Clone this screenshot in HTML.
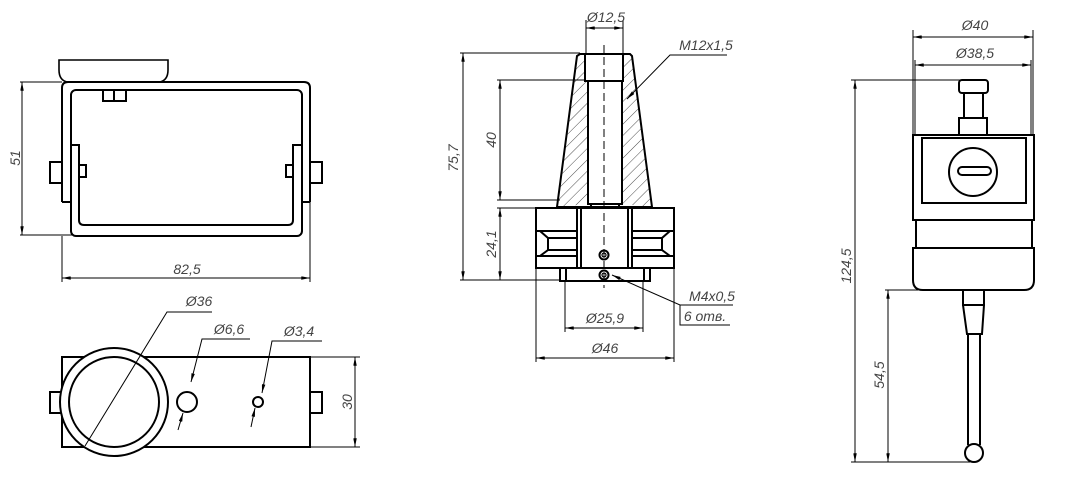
<!DOCTYPE html>
<html><head><meta charset="utf-8"><style>
html,body{margin:0;padding:0;background:#fff;}
svg{display:block;}
text{font-family:"Liberation Sans",sans-serif;font-style:italic;font-size:14px;fill:#444;}
</style></head><body>
<svg width="1079" height="485" viewBox="0 0 1079 485" xmlns="http://www.w3.org/2000/svg">
<defs>
<marker id="a" viewBox="0 0 10 4" refX="10" refY="2" markerWidth="9" markerHeight="3.5" orient="auto-start-reverse" markerUnits="userSpaceOnUse"><path d="M0,0L10,2L0,4z" fill="#000"/></marker>
<clipPath id="hc"><path d="M577,54 L585,54 L585,81 L588,81 L588,204 L557,207 Z M632,54 L623,54 L623,81 L622,81 L622,204 L652,207 Z"/></clipPath>
<pattern id="hp" width="8" height="8" patternUnits="userSpaceOnUse" patternTransform="rotate(45)"><line x1="0" y1="0" x2="0" y2="8" stroke="#000" stroke-width="0.7"/></pattern>
</defs>

<g fill="none" stroke="#000" stroke-width="2">
<path d="M59,60 H168 V70 Q168,80 160,82 H67 Q59,80 59,70 Z" stroke-width="1.6"/>
<path d="M62,202 V88 Q62,82 68,82 H304 Q310,82 310,88 V202"/>
<rect x="71" y="90" width="231" height="146" rx="5"/>
<path d="M71,145 H79 V220 Q79,225 84,225 H288 Q293,225 293,220 V145 H302"/>
<path d="M62,202 H71 M302,202 H310"/>
<path d="M62,162 H50 V183 H62 M310,162 H322 V183 H310"/>
<path d="M79,165 H86 V177 H79 M293,165 H286 V177 H293"/>
<path d="M103,90 V101 H126 V90 M114,90 V101"/>
</g>
<g stroke="#000" stroke-width="1" fill="none">
<line x1="20" y1="82" x2="62" y2="82"/><line x1="20" y1="235" x2="72" y2="235"/>
<line x1="22" y1="82" x2="22" y2="235" marker-start="url(#a)" marker-end="url(#a)"/>
<line x1="62" y1="236" x2="62" y2="282"/><line x1="310" y1="202" x2="310" y2="282"/>
<line x1="62" y1="278" x2="310" y2="278" marker-start="url(#a)" marker-end="url(#a)"/>
</g>
<text transform="translate(20,158) rotate(-90)" text-anchor="middle">51</text>
<text x="187" y="274" text-anchor="middle">82,5</text>

<g fill="none" stroke="#000" stroke-width="2">
<rect x="62" y="357" width="248" height="90"/>
<path d="M62,392 H50 V413 H62 M310,392 H322 V413 H310"/>
<circle cx="114" cy="402" r="54" fill="#fff"/>
<circle cx="114" cy="402" r="45"/>
<circle cx="187" cy="402" r="10"/>
<circle cx="258" cy="402" r="5"/>
</g>
<g stroke="#000" stroke-width="1" fill="none">
<path d="M212,312 H167 L85,446"/>
<path d="M250,339 H202 L191,382" marker-end="url(#a)"/><line x1="178" y1="430" x2="183" y2="413" marker-end="url(#a)"/>
<path d="M322,341 H272 L262,393" marker-end="url(#a)"/><line x1="251" y1="427" x2="255" y2="408" marker-end="url(#a)"/>
<line x1="310" y1="357" x2="360" y2="357"/><line x1="310" y1="447" x2="360" y2="447"/>
<line x1="355" y1="357" x2="355" y2="447" marker-start="url(#a)" marker-end="url(#a)"/>
</g>
<text x="199" y="306" text-anchor="middle">Ø36</text>
<text x="229" y="334" text-anchor="middle">Ø6,6</text>
<text x="299" y="336" text-anchor="middle">Ø3,4</text>
<text transform="translate(352,402) rotate(-90)" text-anchor="middle">30</text>

<rect x="540" y="50" width="120" height="160" fill="url(#hp)" clip-path="url(#hc)"/>
<g fill="none" stroke="#000" stroke-width="2">
<path d="M580,54 H630 L632,56 L652,207 H557 L577,56 Z"/>
<path d="M585,54 V81 H623 V54"/>
<path d="M588,81 V204 H622 V81 M591,204 V207 M619,204 V207"/>
<rect x="536" y="208" width="138" height="60"/>
<path d="M577,208 V268 M581,208 V268 M628,208 V268 M632,208 V268"/>
<path d="M536,231 H577 M536,256 H577 M548,238 H577 M548,250 H577 M540,231 L548,238 V250 L540,256"/>
<path d="M674,231 H632 M674,256 H632 M662,238 H632 M662,250 H632 M670,231 L662,238 V250 L670,256"/>
<path d="M560,268 V281 H650 V268 M566,268 V281 M644,268 V281"/>
<circle cx="604" cy="255" r="4.5"/><circle cx="604" cy="255" r="2" stroke-width="1.2"/>
<circle cx="604" cy="275" r="4.5"/><circle cx="604" cy="275" r="2" stroke-width="1.2"/>
</g>
<g stroke="#000" stroke-width="1" fill="none">
<line x1="604" y1="45" x2="604" y2="288" stroke-dasharray="8,4"/>
<line x1="586" y1="20" x2="586" y2="54"/><line x1="623" y1="20" x2="623" y2="54"/>
<line x1="586" y1="28" x2="623" y2="28" marker-start="url(#a)" marker-end="url(#a)"/>
<path d="M727,55 H670 L627,99" marker-end="url(#a)"/>
<line x1="460" y1="53" x2="580" y2="53"/><line x1="460" y1="280" x2="560" y2="280"/>
<line x1="463" y1="53" x2="463" y2="280" marker-start="url(#a)" marker-end="url(#a)"/>
<line x1="497" y1="80" x2="586" y2="80"/><line x1="497" y1="200" x2="560" y2="200"/>
<line x1="500" y1="80" x2="500" y2="200" marker-start="url(#a)" marker-end="url(#a)"/>
<line x1="497" y1="208" x2="536" y2="208"/>
<line x1="500" y1="208" x2="500" y2="280" marker-start="url(#a)" marker-end="url(#a)"/>
<line x1="565" y1="281" x2="565" y2="332"/><line x1="643" y1="281" x2="643" y2="332"/>
<line x1="565" y1="328" x2="643" y2="328" marker-start="url(#a)" marker-end="url(#a)"/>
<line x1="536" y1="268" x2="536" y2="362"/><line x1="674" y1="268" x2="674" y2="362"/>
<line x1="536" y1="358" x2="674" y2="358" marker-start="url(#a)" marker-end="url(#a)"/>
<path d="M733,305 H680 L612,275" marker-end="url(#a)"/>
<path d="M680,305 V325 H730"/>
</g>
<text x="606" y="22" text-anchor="middle">Ø12,5</text>
<text x="706" y="50" text-anchor="middle" font-size="13">M12x1,5</text>
<text transform="translate(458,158) rotate(-90)" text-anchor="middle">75,7</text>
<text transform="translate(496,140) rotate(-90)" text-anchor="middle">40</text>
<text transform="translate(496,244) rotate(-90)" text-anchor="middle">24,1</text>
<text x="605" y="323" text-anchor="middle">Ø25,9</text>
<text x="605" y="353" text-anchor="middle">Ø46</text>
<text x="712" y="301" text-anchor="middle" font-size="13">M4x0,5</text>
<text x="705" y="321" text-anchor="middle" font-size="13">6 отв.</text>

<g fill="none" stroke="#000" stroke-width="2">
<rect x="959" y="80" width="29" height="13" rx="3"/>
<path d="M964,93 V118 M983,93 V118"/>
<rect x="959" y="118" width="28" height="17"/>
<rect x="913" y="135" width="121" height="85"/>
<rect x="922" y="138" width="104" height="65"/>
<circle cx="973" cy="172" r="24"/>
<rect x="958" y="167" width="33" height="8" rx="4"/>
<path d="M916,220 V248 M1032,220 V248"/>
<path d="M913,248 H1034 V280 Q1034,290 1024,290 H923 Q913,290 913,280 Z"/>
<path d="M963,290 V305 H984 V290 M963,305 L967,334 H982 L984,305"/>
<path d="M968,334 V445 M980,334 V445"/>
<circle cx="974" cy="453" r="9"/>
</g>
<g stroke="#000" stroke-width="1" fill="none">
<line x1="913" y1="30" x2="913" y2="135"/><line x1="1033" y1="30" x2="1033" y2="135"/>
<line x1="915" y1="60" x2="915" y2="135"/><line x1="1031" y1="60" x2="1031" y2="135"/>
<line x1="913" y1="37" x2="1033" y2="37" marker-start="url(#a)" marker-end="url(#a)"/>
<line x1="915" y1="65" x2="1031" y2="65" marker-start="url(#a)" marker-end="url(#a)"/>
<line x1="851" y1="80" x2="962" y2="80"/><line x1="851" y1="462" x2="970" y2="462"/>
<line x1="855" y1="80" x2="855" y2="462" marker-start="url(#a)" marker-end="url(#a)"/>
<line x1="885" y1="290" x2="918" y2="290"/>
<line x1="888" y1="290" x2="888" y2="462" marker-start="url(#a)" marker-end="url(#a)"/>
</g>
<text x="975" y="30" text-anchor="middle">Ø40</text>
<text x="975" y="58" text-anchor="middle">Ø38,5</text>
<text transform="translate(851,266) rotate(-90)" text-anchor="middle">124,5</text>
<text transform="translate(884,375) rotate(-90)" text-anchor="middle">54,5</text>
</svg>
</body></html>
